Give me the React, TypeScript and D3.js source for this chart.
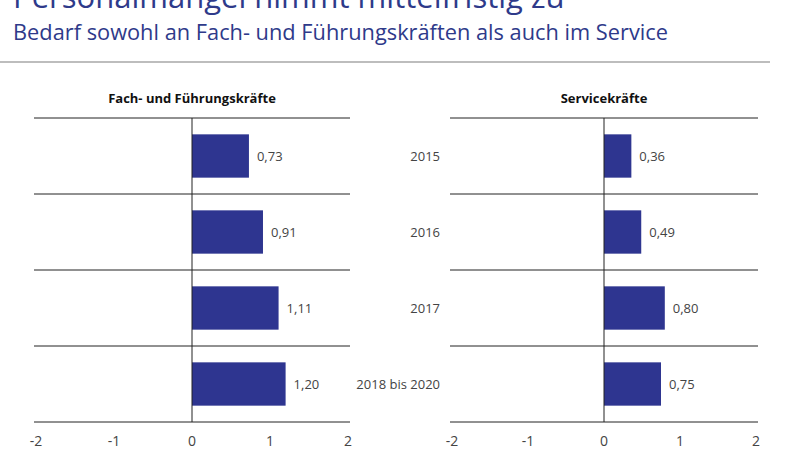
import React from 'react';
import * as d3 from 'd3';

const categories = ['2015', '2016', '2017', '2018 bis 2020'];
const fachValues = [0.73, 0.91, 1.11, 1.2];
const serviceValues = [0.36, 0.49, 0.8, 0.75];
const xTicks = [-2, -1, 0, 1, 2];

const title = 'Personalmangel nimmt mittelfristig zu';
const subtitle = 'Bedarf sowohl an Fach- und Führungskräften als auch im Service';

const barColor = '#2e3590';
const textColor = '#444';
const fmt = (v: number) => d3.format('.2f')(v).replace('.', ',');

type PanelProps = {
  label: string;
  values: number[];
  x0: number;
  x1: number;
  showCategories: boolean;
};

function Panel({ label, values, x0, x1, showCategories }: PanelProps) {
  const x = d3.scaleLinear().domain([-2, 2]).range([x0, x1]);
  const y = d3.scaleBand<string>().domain(categories).range([118, 422]).paddingInner(0.43).paddingOuter(0.215);
  const step = y.step();
  const gridYs = categories.map((c) => (y(c) as number) - (step - y.bandwidth()) / 2);
  gridYs.push(422);

  return (
    <g>
      <text x={x(0)} y={103} textAnchor="middle" fontWeight="bold" fontSize={13} fill="#111">
        {label}
      </text>
      {gridYs.map((gy, i) => (
        <line key={i} x1={x0 - 2} x2={x1 + 2} y1={gy} y2={gy} stroke="#222" strokeWidth={1} />
      ))}
      {values.map((v, i) => (
        <g key={categories[i]}>
          <rect
            x={x(Math.min(0, v))}
            y={y(categories[i])}
            width={Math.abs(x(v) - x(0))}
            height={y.bandwidth()}
            fill={barColor}
          />
          <text
            x={x(v) + 8}
            y={(y(categories[i]) as number) + y.bandwidth() / 2 + 5}
            fontSize={13}
            fill={textColor}
          >
            {fmt(v)}
          </text>
          {showCategories && (
            <text
              x={x0 - 12}
              y={(y(categories[i]) as number) + y.bandwidth() / 2 + 5}
              textAnchor="end"
              fontSize={13}
              fill={textColor}
            >
              {categories[i]}
            </text>
          )}
        </g>
      ))}
      <line x1={x(0)} x2={x(0)} y1={118} y2={422} stroke="#222" strokeWidth={1} />
      {xTicks.map((t) => (
        <text key={t} x={x(t)} y={446} textAnchor="middle" fontSize={14} fill={textColor}>
          {t}
        </text>
      ))}
    </g>
  );
}

export default function App() {
  return (
    <div style={{ position: 'absolute', left: 0, top: 0 }}>
      <svg width={800} height={450} style={{ display: 'block', fontFamily: '"Open Sans", sans-serif' }}>
        <rect width={800} height={450} fill="#fff" />
        <text x={13} y={8} fontSize={31} fill="#2e3a8a" fontFamily='"Open Sans", sans-serif'>
          {title}
        </text>
        <text x={13} y={40} fontSize={21} fill="#2e3a8a" textLength={655} lengthAdjust="spacingAndGlyphs">
          {subtitle}
        </text>
        <line x1={0} x2={770} y1={62} y2={62} stroke="#bdbdbd" strokeWidth={2} />
        <Panel label="Fach- und Führungskräfte" values={fachValues} x0={36} x1={348} showCategories={false} />
        <Panel label="Servicekräfte" values={serviceValues} x0={452} x1={756} showCategories={true} />
      </svg>
    </div>
  );
}
